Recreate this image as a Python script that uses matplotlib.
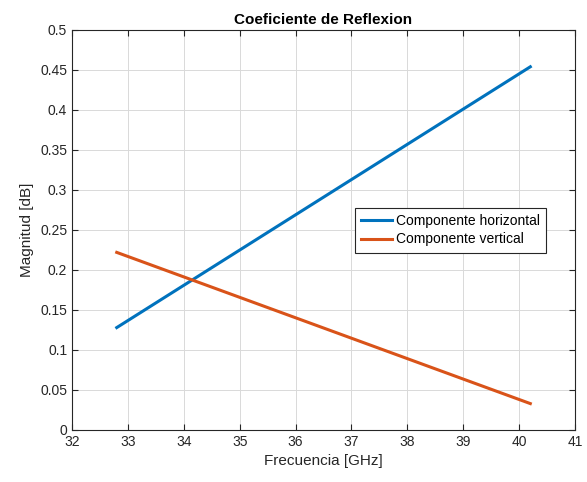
import numpy as np
import matplotlib.pyplot as plt

plt.rcParams['font.family'] = ['Liberation Sans', 'DejaVu Sans']

# frecuencia [GHz] y magnitudes
freq = [32.8, 40.2]
comp_h = [0.128, 0.454]
comp_v = [0.222, 0.033]

blue = (0.0, 0.447, 0.741)
orange = (0.85, 0.325, 0.098)
axcol = (0.15, 0.15, 0.15)

fig = plt.figure(figsize=(5.87, 4.82), dpi=100)
ax = fig.add_axes([0.1227, 0.1079, 0.8569, 0.8299])

ax.plot(freq, comp_h, color=blue, lw=2.2, label="Componente horizontal")
ax.plot(freq, comp_v, color=orange, lw=2.2, label="Componente vertical")

ax.set_xlim(32, 41)
ax.set_ylim(0, 0.5)
ax.set_xticks(np.arange(32, 42, 1))
ax.set_yticks(np.arange(0, 0.51, 0.05))
ax.set_yticklabels(["0", "0.05", "0.1", "0.15", "0.2", "0.25", "0.3", "0.35", "0.4", "0.45", "0.5"])

ax.grid(True, color=(0.85, 0.85, 0.85), lw=0.7)
ax.set_axisbelow(True)
ax.tick_params(direction="in", top=True, right=True, length=4, colors=axcol,
               labelsize=10, labelcolor=axcol)
for s in ax.spines.values():
    s.set_color(axcol)
    s.set_linewidth(0.8)

ax.set_xlabel("Frecuencia [GHz]", fontsize=11, color=axcol)
ax.set_ylabel("Magnitud [dB]", fontsize=11, color=axcol)
ax.set_title("Coeficiente de Reflexion", fontsize=11, fontweight="bold", pad=4)

leg = ax.legend(loc="upper left", bbox_to_anchor=(0.563, 0.555), fontsize=10,
                frameon=True, fancybox=False, borderpad=0.45, handlelength=2.2,
                handletextpad=0.3, labelspacing=0.3, borderaxespad=0)
leg.get_frame().set_edgecolor(axcol)
leg.get_frame().set_linewidth(0.8)
leg.get_frame().set_alpha(1)

fig.savefig("out.png", dpi=100)
